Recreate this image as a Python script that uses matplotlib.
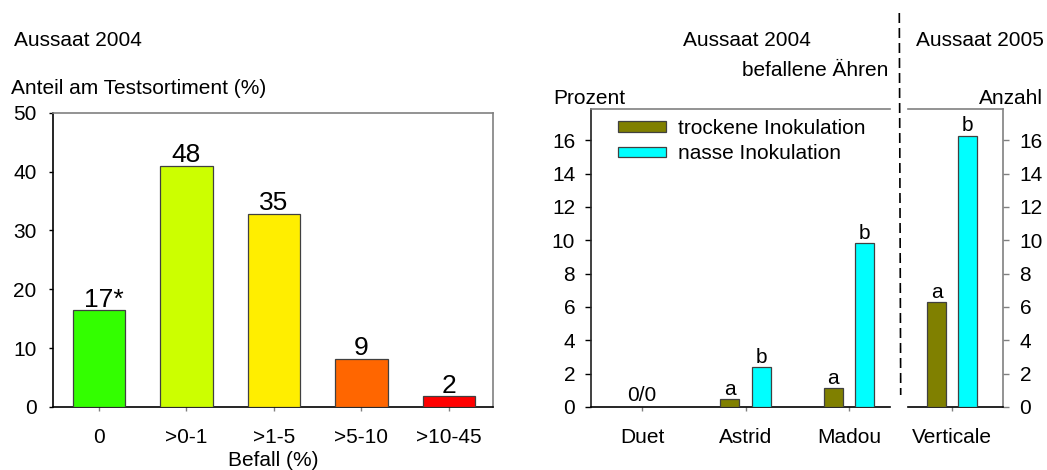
import matplotlib
matplotlib.use("Agg")
import matplotlib.pyplot as plt
from matplotlib.patches import Patch
from matplotlib.lines import Line2D

plt.rcParams['font.family'] = ['Liberation Sans', 'DejaVu Sans']

# ---------------- data ----------------
befall_classes = ['0', '>0-1', '>1-5', '>5-10', '>10-45']
anteil_values = [16.4, 41.0, 32.8, 8.2, 1.8]
anteil_labels = ['17*', '48', '35', '9', '2']
class_colors = ['#33FF00', '#CCFF00', '#FFEE00', '#FF6600', '#FF0000']

sorten_2004 = ['Duet', 'Astrid', 'Madou']
trocken_2004 = [0.0, 0.46, 1.12]
nass_2004 = [0.0, 2.4, 9.82]
letters_trocken_2004 = ['', 'a', 'a']
letters_nass_2004 = ['', 'b', 'b']

sorten_2005 = ['Verticale']
trocken_2005 = [6.28]
nass_2005 = [16.28]
letters_trocken_2005 = ['a']
letters_nass_2005 = ['b']

series_names = ['trockene Inokulation', 'nasse Inokulation']
series_colors = ['#808000', '#00FFFF']

# ---------------- figure ----------------
W, H = 1047, 470
fig = plt.figure(figsize=(W / 100, H / 100), dpi=100)
FS = 15
GRAY = '#808080'
EDGE = '#404040'

def fx(px):
    return px / W

def fy(py):
    return 1 - py / H

# ---- left chart ----
ax1 = fig.add_axes([fx(53.3), fy(407), fx(492.7 - 53.3), (407 - 112.7) / H])
x1 = list(range(len(befall_classes)))
bars = ax1.bar(x1, anteil_values, width=0.6, color=class_colors,
               edgecolor=EDGE, linewidth=0.9, zorder=3)
ax1.set_xlim(-0.52, 4.5)
ax1.set_ylim(0, 50)
ax1.set_yticks(range(0, 51, 10))
ax1.set_xticks(x1)
ax1.set_xticklabels(befall_classes)
for i, (v, lab) in enumerate(zip(anteil_values, anteil_labels)):
    dx = 4 if lab.endswith('*') else 0
    ax1.annotate(lab, (i, v), xytext=(dx, 2.5), textcoords='offset points',
                 ha='center', va='baseline', fontsize=19)
ax1.spines['left'].set_color('black')
ax1.spines['bottom'].set_color('black')
ax1.spines['top'].set_color(GRAY)
ax1.spines['right'].set_color(GRAY)
for s in ax1.spines.values():
    s.set_linewidth(1.2)
ax1.tick_params(axis='y', length=3, pad=9, labelsize=FS, color='black', width=1)
ax1.tick_params(axis='x', length=3, pad=12, labelsize=FS, color=GRAY, width=1)

fig.text(fx(14), fy(40), 'Aussaat 2004', fontsize=FS, ha='left', va='center')
fig.text(fx(10.7), fy(88), 'Anteil am Testsortiment (%)', fontsize=FS, ha='left', va='center')
fig.text(fx(273), fy(460), 'Befall (%)', fontsize=FS, ha='center', va='center')

# ---- right chart, 2004 ----
ytop = 17.88
ax2 = fig.add_axes([fx(590.7), fy(407), fx(890 - 590.7), (407 - 109) / H])
x2 = list(range(len(sorten_2004)))
off, bw = 0.151, 0.184
ax2.bar([x - off for x in x2], trocken_2004, width=bw, color=series_colors[0],
        edgecolor=EDGE, linewidth=0.9, zorder=3)
ax2.bar([x + off for x in x2], nass_2004, width=bw, color=series_colors[1],
        edgecolor=EDGE, linewidth=0.9, zorder=3)
for i in x2:
    if letters_trocken_2004[i]:
        ax2.annotate(letters_trocken_2004[i], (i - off, trocken_2004[i]), xytext=(0, 3),
                     textcoords='offset points', ha='center', va='baseline', fontsize=FS)
    if letters_nass_2004[i]:
        ax2.annotate(letters_nass_2004[i], (i + off, nass_2004[i]), xytext=(0, 3),
                     textcoords='offset points', ha='center', va='baseline', fontsize=FS)
ax2.annotate(f'{trocken_2004[0]:.0f}/{nass_2004[0]:.0f}', (0, 0), xytext=(0, 4),
             textcoords='offset points', ha='center', va='baseline', fontsize=FS)
ax2.set_xlim(-0.496, 2.396)
ax2.set_ylim(0, ytop)
ax2.set_yticks(range(0, 17, 2))
ax2.set_xticks(x2)
ax2.set_xticklabels(sorten_2004)
ax2.spines['right'].set_visible(False)
ax2.spines['top'].set_color(GRAY)
ax2.spines['left'].set_color('#202020')
ax2.spines['bottom'].set_color('black')
for s in ax2.spines.values():
    s.set_linewidth(1.2)
ax2.tick_params(axis='y', length=4, pad=7.2, labelsize=FS, color='black', width=1)
ax2.tick_params(axis='x', length=3, pad=12, labelsize=FS, color=GRAY, width=1)
handles = [Patch(facecolor=c, edgecolor=EDGE, linewidth=0.9) for c in series_colors]
ax2.legend(handles, series_names, loc='upper left', bbox_to_anchor=(0.0912, 0.9665),
           frameon=False, fontsize=FS, borderpad=0, borderaxespad=0,
           handlelength=2.32, handleheight=0.42, handletextpad=0.58, labelspacing=0.31)

# ---- right chart, 2005 ----
ax3 = fig.add_axes([fx(908), fy(407), fx(1003.3 - 908), (407 - 109) / H])
x3 = list(range(len(sorten_2005)))
ax3.bar([x - off for x in x3], trocken_2005, width=bw, color=series_colors[0],
        edgecolor=EDGE, linewidth=0.9, zorder=3)
ax3.bar([x + off for x in x3], nass_2005, width=bw, color=series_colors[1],
        edgecolor=EDGE, linewidth=0.9, zorder=3)
for i in x3:
    ax3.annotate(letters_trocken_2005[i], (i - off, trocken_2005[i]), xytext=(0, 3),
                 textcoords='offset points', ha='center', va='baseline', fontsize=FS)
    ax3.annotate(letters_nass_2005[i], (i + off, nass_2005[i]), xytext=(0, 3),
                 textcoords='offset points', ha='center', va='baseline', fontsize=FS)
ax3.set_xlim(-0.428, 0.493)
ax3.set_ylim(0, ytop)
ax3.set_yticks(range(0, 17, 2))
ax3.set_xticks(x3)
ax3.set_xticklabels(sorten_2005)
ax3.yaxis.tick_right()
ax3.spines['left'].set_visible(False)
ax3.spines['top'].set_color(GRAY)
ax3.spines['right'].set_color(GRAY)
ax3.spines['bottom'].set_color('black')
for s in ax3.spines.values():
    s.set_linewidth(1.2)
ax3.tick_params(axis='y', length=4, pad=7.7, labelsize=FS, color=GRAY, width=1)
ax3.tick_params(axis='x', length=3, pad=12, labelsize=FS, color=GRAY, width=1)

# ---- texts and separator ----
fig.text(fx(746.7), fy(40), 'Aussaat 2004', fontsize=FS, ha='center', va='center')
fig.text(fx(980), fy(40), 'Aussaat 2005', fontsize=FS, ha='center', va='center')
fig.text(fx(815), fy(70), 'befallene Ähren', fontsize=FS, ha='center', va='center')
fig.text(fx(553.3), fy(98.3), 'Prozent', fontsize=FS, ha='left', va='center')
fig.text(fx(1042.7), fy(98.3), 'Anzahl', fontsize=FS, ha='right', va='center')
fig.add_artist(Line2D([fx(899.3), fx(900.7)], [fy(13), fy(395)], color='black',
                      linewidth=1.2, linestyle=(0, (6, 3)), transform=fig.transFigure))

fig.savefig('out.png', dpi=100, facecolor='white')
